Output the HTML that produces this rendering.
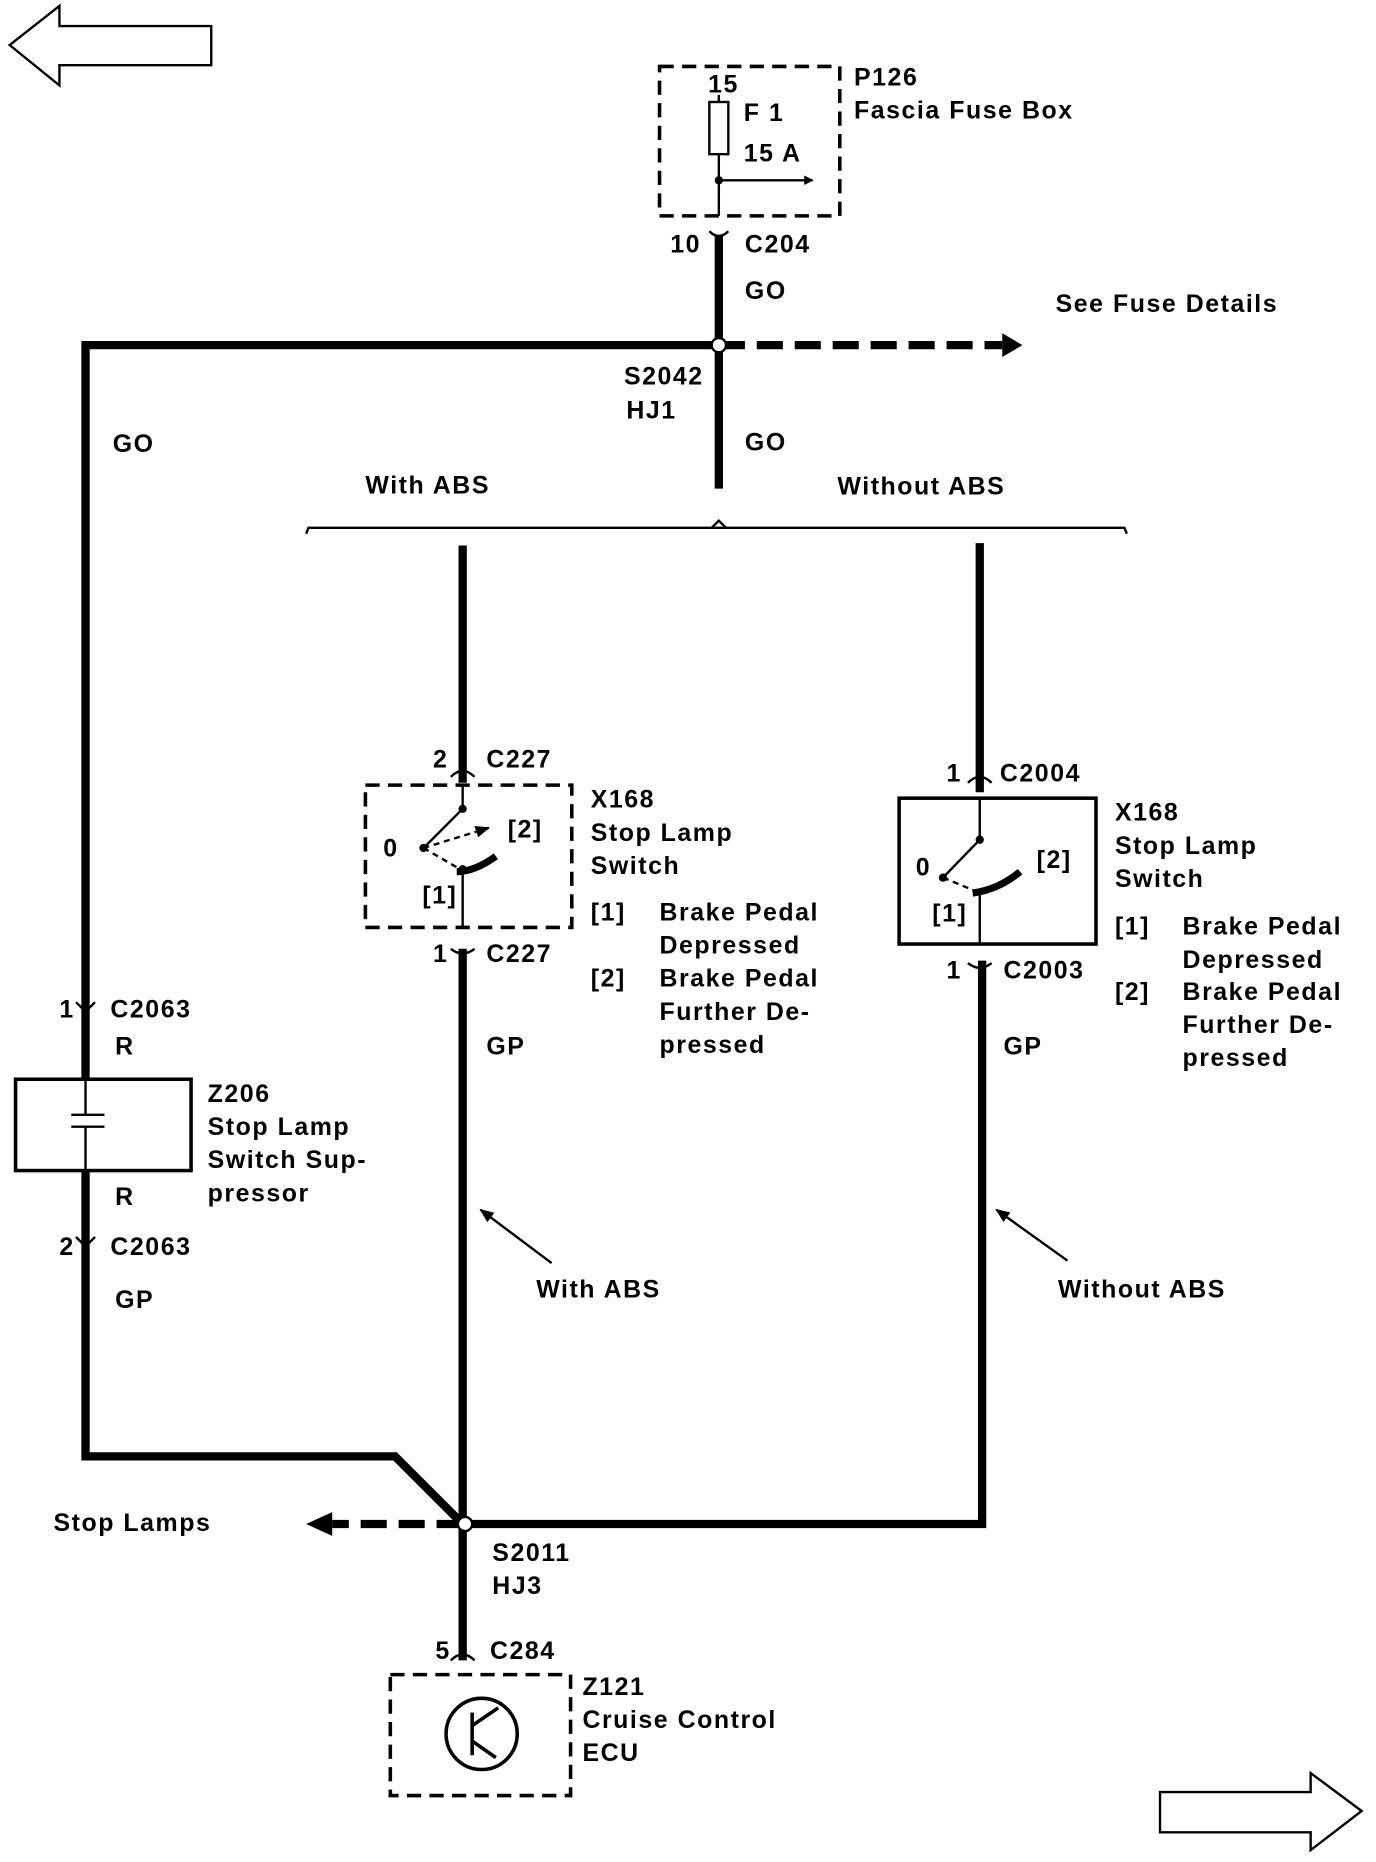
<!DOCTYPE html>
<html><head><meta charset="utf-8"><style>
html,body{margin:0;padding:0;background:#fff;}
svg{display:block;}
text{font-family:"Liberation Sans",sans-serif;font-weight:bold;font-size:21px;letter-spacing:1.3px;fill:#000;}
</style></head><body>
<svg width="1376" height="1862" viewBox="0 0 1160 1570" xmlns="http://www.w3.org/2000/svg">
<defs>
<marker id="ah" markerWidth="8" markerHeight="8" refX="7" refY="4" orient="auto" markerUnits="userSpaceOnUse"><path d="M0,0 L8,4 L0,8 z" fill="#000"/></marker>
<marker id="ahs" markerWidth="12" markerHeight="10" refX="11" refY="5" orient="auto" markerUnits="userSpaceOnUse"><path d="M0,0 L12,5 L0,10 z" fill="#000"/></marker>
</defs>
<polygon points="8,38 50,5 50,22 178,22 178,55 50,55 50,72" fill="none" stroke="#000" stroke-width="2"/>
<polygon points="1148,1527 1105,1495 1105,1511 978,1511 978,1545 1105,1545 1105,1560" fill="none" stroke="#000" stroke-width="2"/>

<rect x="556" y="56" width="152" height="126" fill="none" stroke="#000" stroke-width="3" stroke-dasharray="12,7"/>
<rect x="598" y="86" width="16" height="44" fill="none" stroke="#000" stroke-width="2"/>
<line x1="606" y1="80" x2="606" y2="86" stroke="#000" stroke-width="2"/>
<line x1="606" y1="130" x2="606" y2="182" stroke="#000" stroke-width="2"/>
<circle cx="606" cy="152" r="3.5"/>
<line x1="606" y1="152" x2="685" y2="152" stroke="#000" stroke-width="2" marker-end="url(#ah)"/>
<text x="597" y="78">15</text><text x="627" y="102">F 1</text><text x="627" y="136">15 A</text>
<text x="720" y="72">P126</text><text x="720" y="100">Fascia Fuse Box</text>

<g stroke="#000" stroke-width="7" fill="none">
<line x1="606" y1="198" x2="606" y2="412"/>
<polyline points="606,291 72,291 72,910"/>
<polyline points="72,987 72,1228 333,1228 390,1285"/>
<line x1="390" y1="460" x2="390" y2="660"/>
<line x1="390" y1="800" x2="390" y2="1400"/>
<line x1="826" y1="458" x2="826" y2="668"/>
<polyline points="828,810 828,1285 390,1285"/>
</g>
<line x1="606" y1="291" x2="845" y2="291" stroke="#000" stroke-width="7" stroke-dasharray="22,10"/>
<polygon points="845,281 862,291 845,301"/>
<line x1="390" y1="1285" x2="280" y2="1285" stroke="#000" stroke-width="7" stroke-dasharray="22,10"/>
<polygon points="280,1275 258,1285 280,1295"/>
<circle cx="606" cy="291" r="6" fill="#fff" stroke="#000" stroke-width="2"/>
<circle cx="392" cy="1285" r="6" fill="#fff" stroke="#000" stroke-width="2"/>
<g stroke="#000" stroke-width="2" fill="none">
<path d="M598,195 q8,8 16,0"/>
<path d="M380,655 q10,-10 20,0"/><path d="M380,800 q10,8 20,0"/>
<path d="M816,660 q10,-10 20,0"/><path d="M816,812 q10,8 20,0"/>
<path d="M380,1400 q10,-10 20,0"/>
<path d="M64,845 l8,8 l8,-8"/><path d="M64,1043 l8,8 l8,-8"/>
</g>
<text x="565" y="213">10</text><text x="628" y="213">C204</text>
<text x="628" y="252">GO</text>
<text x="890" y="263">See Fuse Details</text>
<text x="526" y="324">S2042</text><text x="528" y="353">HJ1</text>
<text x="628" y="380">GO</text><text x="95" y="381">GO</text>

<polyline points="258,450 260,445 948,445 950,450" fill="none" stroke="#000" stroke-width="2"/>
<path d="M600,445 l6,-6 l6,6" fill="none" stroke="#000" stroke-width="2"/>
<text x="308" y="416">With ABS</text><text x="706" y="417">Without ABS</text>

<rect x="308" y="662" width="174" height="120" fill="none" stroke="#000" stroke-width="3" stroke-dasharray="12,7"/>
<g stroke="#000" stroke-width="2" fill="none">
<line x1="390" y1="662" x2="390" y2="682"/>
<line x1="390" y1="682" x2="357" y2="715"/>
<line x1="357" y1="715" x2="412" y2="698" stroke-dasharray="5,4" marker-end="url(#ahs)"/>
<line x1="357" y1="715" x2="388" y2="733" stroke-dasharray="5,4"/>
<line x1="390" y1="733" x2="390" y2="782"/>
</g>
<path d="M385,735 Q400,735 418,722" stroke="#000" stroke-width="6" fill="none"/>
<circle cx="390" cy="682" r="3.5"/><circle cx="357" cy="715" r="3.5"/><circle cx="390" cy="733" r="3.5"/>
<text x="323" y="722">0</text><text x="428" y="706">[2]</text><text x="356" y="762">[1]</text>
<text x="365" y="647">2</text><text x="410" y="647">C227</text>
<text x="365" y="811">1</text><text x="410" y="811">C227</text>
<text x="498" y="681">X168</text><text x="498" y="709">Stop Lamp</text><text x="498" y="737">Switch</text>
<text x="498" y="776">[1]</text><text x="556" y="776">Brake Pedal</text><text x="556" y="804">Depressed</text>
<text x="498" y="832">[2]</text><text x="556" y="832">Brake Pedal</text><text x="556" y="860">Further De-</text><text x="556" y="888">pressed</text>
<text x="410" y="889">GP</text>

<rect x="758" y="673" width="166" height="123" fill="none" stroke="#000" stroke-width="3"/>
<g stroke="#000" stroke-width="2" fill="none">
<line x1="826" y1="673" x2="826" y2="708"/>
<line x1="826" y1="708" x2="795" y2="740"/>
<line x1="795" y1="740" x2="824" y2="752" stroke-dasharray="5,4"/>
<line x1="826" y1="752" x2="826" y2="796"/>
</g>
<path d="M820,753 Q842,750 860,735" stroke="#000" stroke-width="6" fill="none"/>
<circle cx="826" cy="708" r="3.5"/><circle cx="795" cy="740" r="3.5"/>
<text x="772" y="738">0</text><text x="874" y="732">[2]</text><text x="786" y="777">[1]</text>
<text x="798" y="659">1</text><text x="843" y="659">C2004</text>
<text x="798" y="825">1</text><text x="846" y="825">C2003</text>
<text x="940" y="692">X168</text><text x="940" y="720">Stop Lamp</text><text x="940" y="748">Switch</text>
<text x="940" y="788">[1]</text><text x="997" y="788">Brake Pedal</text><text x="997" y="816">Depressed</text>
<text x="940" y="843">[2]</text><text x="997" y="843">Brake Pedal</text><text x="997" y="871">Further De-</text><text x="997" y="899">pressed</text>
<text x="846" y="889">GP</text>

<rect x="13" y="910" width="148" height="77" fill="none" stroke="#000" stroke-width="3"/>
<g stroke="#000" stroke-width="2">
<line x1="72" y1="910" x2="72" y2="940"/><line x1="72" y1="950" x2="72" y2="987"/>
<line x1="60" y1="940" x2="88" y2="940"/><line x1="60" y1="950" x2="88" y2="950"/>
</g>
<text x="50" y="858">1</text><text x="93" y="858">C2063</text><text x="97" y="889">R</text>
<text x="175" y="929">Z206</text><text x="175" y="957">Stop Lamp</text><text x="175" y="985">Switch Sup-</text><text x="175" y="1013">pressor</text>
<text x="97" y="1016">R</text>
<text x="50" y="1058">2</text><text x="93" y="1058">C2063</text><text x="97" y="1103">GP</text>

<line x1="465" y1="1065" x2="405" y2="1020" stroke="#000" stroke-width="2" marker-end="url(#ahs)"/>
<line x1="900" y1="1063" x2="840" y2="1020" stroke="#000" stroke-width="2" marker-end="url(#ahs)"/>
<text x="452" y="1094">With ABS</text><text x="892" y="1094">Without ABS</text>

<text x="45" y="1291">Stop Lamps</text>
<text x="415" y="1316">S2011</text><text x="415" y="1344">HJ3</text>
<text x="367" y="1399">5</text><text x="413" y="1399">C284</text>

<rect x="329" y="1412" width="152" height="102" fill="none" stroke="#000" stroke-width="3" stroke-dasharray="12,7"/>
<circle cx="406" cy="1462" r="30" fill="none" stroke="#000" stroke-width="3"/>
<g stroke="#000" stroke-width="3">
<line x1="398" y1="1444" x2="398" y2="1480"/>
<line x1="398" y1="1455" x2="420" y2="1440"/>
<line x1="398" y1="1468" x2="418" y2="1482"/>
</g>
<text x="491" y="1429">Z121</text><text x="491" y="1457">Cruise Control</text><text x="491" y="1485">ECU</text>
</svg>
</body></html>
